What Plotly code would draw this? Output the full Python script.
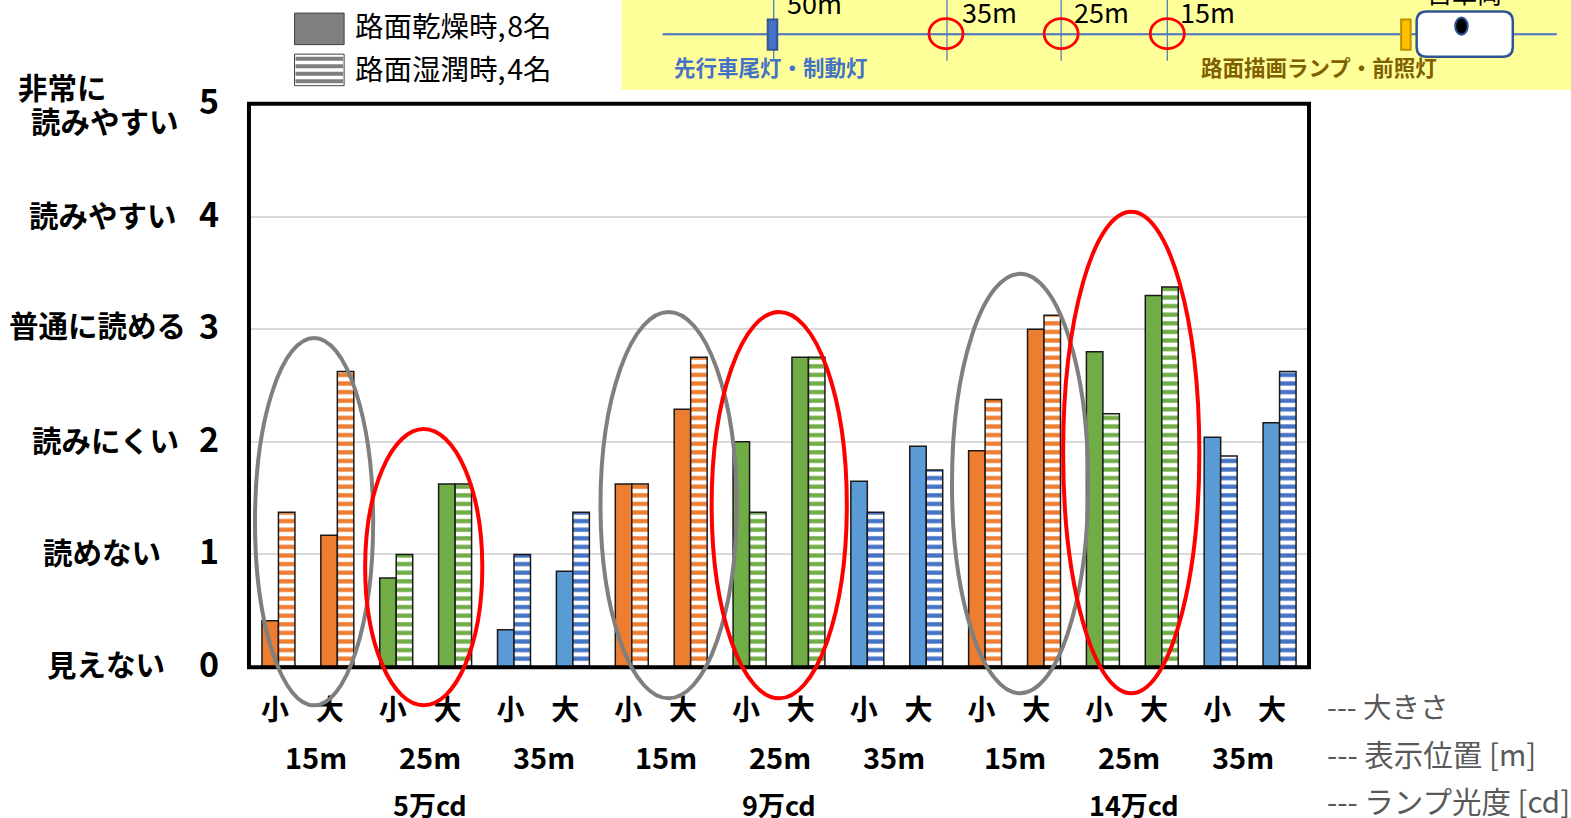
import plotly.graph_objects as go

W, H = 1571, 818
SCALE = 1571 / 1568
L, R, T, B = 248.5, 1309.0, 103.5, 667.0

# ---------- data ----------
size_labels = ["小", "大"] * 9
dry_values = [0.41, 1.17, 0.79, 1.625, 0.33, 0.85,
              1.625, 2.29, 2.00, 2.75, 1.65, 1.96,
              1.92, 3.00, 2.80, 3.30, 2.04, 2.17]
wet_values = [1.375, 2.625, 1.00, 1.625, 1.00, 1.375,
              1.625, 2.75, 1.375, 2.75, 1.375, 1.75,
              2.375, 3.125, 2.25, 3.375, 1.875, 2.625]
dry_colors = ["#ED7D31"] * 2 + ["#70AD47"] * 2 + ["#5B9BD5"] * 2
dry_colors = dry_colors * 3
wet_colors = ["#ED7D31"] * 2 + ["#70AD47"] * 2 + ["#4472C4"] * 2
wet_colors = wet_colors * 3
position_labels = ["15m", "25m", "35m"] * 3
intensity_labels = ["5万cd", "9万cd", "14万cd"]
score_ticks = [0, 1, 2, 3, 4, 5]
x_index = list(range(18))

FONT = "Noto Sans CJK JP"


def fx(p):
    return (p * SCALE - L) / (R - L)


def fy(p):
    return (B - p * SCALE) / (B - T)


fig = go.Figure()
fig.add_bar(x=x_index, y=dry_values, name="路面乾燥時, 8名", showlegend=False,
            marker=dict(color=dry_colors, line=dict(color="#1a1a1a", width=1.5)))
fig.add_bar(x=x_index, y=wet_values, name="路面湿潤時, 4名", showlegend=False,
            marker=dict(color="white", line=dict(color="#1a1a1a", width=1.5),
                        pattern=dict(shape="-", fgcolor=wet_colors, bgcolor="white",
                                     fillmode="replace", size=8.6, solidity=0.5)))

shapes = []
annos = []


def rect(x0, y0, x1, y1, fill, line=None, lw=1):
    shapes.append(dict(type="rect", xref="paper", yref="paper", x0=fx(x0), x1=fx(x1),
                       y0=fy(y0), y1=fy(y1), fillcolor=fill,
                       line=dict(color=line or fill, width=lw if line else 0)))


def seg(x0, y0, x1, y1, color, lw=1.5):
    shapes.append(dict(type="line", xref="paper", yref="paper", x0=fx(x0), x1=fx(x1),
                       y0=fy(y0), y1=fy(y1), line=dict(color=color, width=lw)))


def oval(x0, y0, x1, y1, color, lw=3, fill=None):
    shapes.append(dict(type="circle", xref="paper", yref="paper", x0=fx(x0), x1=fx(x1),
                       y0=fy(y0), y1=fy(y1), line=dict(color=color, width=lw),
                       fillcolor=fill or "rgba(0,0,0,0)"))


def text(t, x, y, size, color="#000000", bold=True, anchor="left"):
    if anchor == "left":
        x -= 2
    annos.append(dict(text=t, xref="paper", yref="paper", x=fx(x), y=fy(y - 1.5), showarrow=False,
                      xanchor=anchor, yanchor="middle",
                      borderpad=0, font=dict(family=FONT, size=size, color=color,
                                             weight=700 if bold else 400)))


# top-right diagram panel
rect(620, -2, 1570, 89, "#FFFF99")
seg(661, 33.5, 1554, 33.5, "#4472C4", 2)
for vx, vy in [(772, 58), (945, 60), (1059, 60), (1165, 60)]:
    seg(vx, -2, vx, vy, "#4472C4", 1.2)
rect(766, 19, 775.5, 49, "#4472C4", "#2F5597", 2)
for cx in (944, 1059, 1165):
    oval(cx - 17, 18, cx + 17, 48, "#FF0000", 2.8)
rect(1398.5, 19, 1408, 49, "#FFC000", "#BF9000", 2)
x0, x1, y0, y1, r = fx(1414), fx(1510), fy(11), fy(56), 10
rx, ry = r * SCALE / (R - L), r * SCALE / (B - T)
shapes.append(dict(type="path", xref="paper", yref="paper", fillcolor="white",
                   line=dict(color="#2F5597", width=2.5),
                   path=f"M{x0+rx},{y0} L{x1-rx},{y0} Q{x1},{y0} {x1},{y0-ry} L{x1},{y1+ry} "
                        f"Q{x1},{y1} {x1-rx},{y1} L{x0+rx},{y1} Q{x0},{y1} {x0},{y1+ry} "
                        f"L{x0},{y0-ry} Q{x0},{y0} {x0+rx},{y0} Z"))
oval(1452.5, 17, 1465, 34, "#2F5597", 2, "#000000")
text("50m", 786, 3.5, 27, bold=False)
text("35m", 961, 12.5, 27, bold=False)
text("25m", 1073, 12.5, 27, bold=False)
text("15m", 1179, 12.5, 27, bold=False)
text("自車両", 1462, -7, 25, bold=False, anchor="center")
text("先行車尾灯・制動灯", 673, 67.5, 21.5, "#4472C4")
text("路面描画ランプ・前照灯", 1200, 67.5, 21.5, "#7F6000")

# legend
rect(293.5, 12.5, 343, 44, "#7F7F7F", "#404040", 1)
rect(293.5, 53.5, 343, 85, "#FFFFFF", "#404040", 1)
for sy in (56, 63.5, 71, 78.5):
    rect(294.5, sy, 342, sy + 4, "#7F7F7F")
text("路面乾燥時,\u200a8名", 355, 25.5, 28.5, bold=False)
text("路面湿潤時,\u200a4名", 355, 68, 28.5, bold=False)

# left verbal scale
text("非常に", 18, 86.5, 29.5)
text("読みやすい", 31, 120.5, 29.5)
text("読みやすい", 29, 214.5, 29.5)
text("普通に読める", 9, 325, 29.5)
text("読みにくい", 32, 439.5, 29.5)
text("読めない", 43, 551.5, 29.5)
text("見えない", 47, 663.5, 29.5)

# x hierarchy
for t, px in zip(position_labels, [315, 429, 543, 664, 778, 892, 1013, 1127, 1241]):
    text(t, px, 756.5, 29, anchor="center")
for t, px in zip(intensity_labels, [429, 777, 1132]):
    text(t, px, 804.5, 27, anchor="center")
text("--- 大きさ", 1325, 705.5, 28.5, "#595959", bold=False)
text("--- 表示位置 [m]", 1325, 753.5, 29.5, "#595959", bold=False)
text("--- ランプ光度 [cd]", 1325, 800.5, 29.5, "#595959", bold=False)

# plot frame
rect(248, 103, 1306.5, 666, "rgba(0,0,0,0)", "#000000", 4)

# ellipses over the bars
oval(254, 337, 372, 704, "#7F7F7F", 4)
oval(364, 428, 481, 704, "#FF0000", 4)
oval(599, 311, 735, 697, "#7F7F7F", 4)
oval(710, 311, 845, 697, "#FF0000", 4)
oval(950, 273, 1086, 692, "#7F7F7F", 4)
oval(1061, 211, 1197, 692, "#FF0000", 4)

# label positions sit a little left of the category centres
tick_pos = [i - (0.06 if i % 2 == 0 else 0.13) for i in x_index]

fig.update_layout(
    width=W, height=H, autosize=False,
    margin=dict(l=L, r=W - R, t=T, b=H - B, pad=0),
    paper_bgcolor="white", plot_bgcolor="white",
    barmode="group", bargap=0.44, bargroupgap=0,
    showlegend=False, font=dict(family=FONT),
    shapes=shapes, annotations=annos,
    xaxis=dict(range=[-0.5, 17.5], tickmode="array", tickvals=tick_pos, ticktext=size_labels,
               showgrid=False, zeroline=False, showline=False, ticks="", ticklabelstandoff=24,
               tickfont=dict(family=FONT, size=28, color="black", weight=700), tickangle=0),
    yaxis=dict(range=[0, 5], tickmode="array", tickvals=score_ticks, showgrid=True,
               gridcolor="#D9D9D9", gridwidth=1.5, zeroline=False, showline=False,
               ticks="", ticklabelstandoff=29, ticklabelshift=-2,
               tickfont=dict(family=FONT, size=34, color="black", weight=700)),
)
fig.write_html("out.html", config=dict(displayModeBar=False),
               post_script="document.body.style.margin='0';document.body.style.overflow='hidden';")
